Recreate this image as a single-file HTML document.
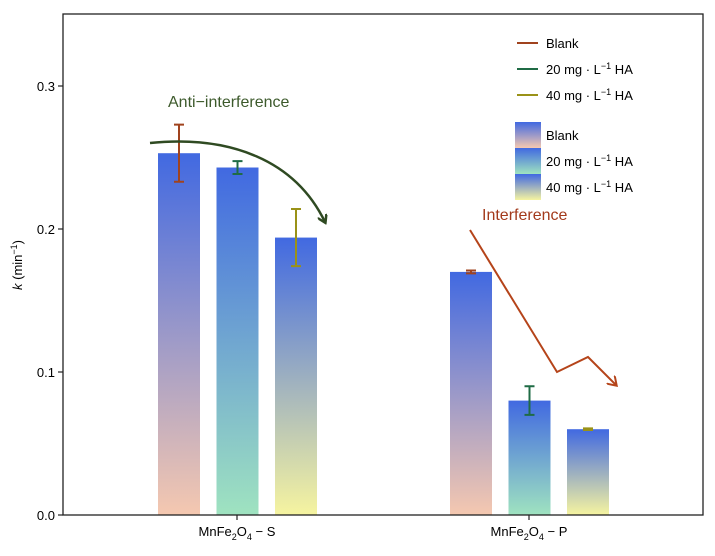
<!DOCTYPE html>
<html><head><meta charset="utf-8"><style>
html,body{margin:0;padding:0;background:#fff;font-family:"Liberation Sans",sans-serif;overflow:hidden}
svg{display:block}
svg text{font-family:"Liberation Sans",sans-serif}
</style></head><body>
<svg id="chart" width="715" height="556">
<defs>
<linearGradient id="g0" x1="0" y1="0" x2="0" y2="1"><stop offset="0" stop-color="#4169e1"/><stop offset="1" stop-color="#f5c8b0"/></linearGradient>
<linearGradient id="g1" x1="0" y1="0" x2="0" y2="1"><stop offset="0" stop-color="#4169e1"/><stop offset="1" stop-color="#9fe3c0"/></linearGradient>
<linearGradient id="g2" x1="0" y1="0" x2="0" y2="1"><stop offset="0" stop-color="#4169e1"/><stop offset="1" stop-color="#f6f4a0"/></linearGradient>
<marker id="ahG" markerWidth="10" markerHeight="10" refX="7" refY="5" orient="auto" markerUnits="userSpaceOnUse"><path d="M0,0 L8,5 L0,10" fill="none" stroke="#2f4a22" stroke-width="2.5"/></marker>
<marker id="ahR" markerWidth="12" markerHeight="12" refX="8" refY="6" orient="auto" markerUnits="userSpaceOnUse"><path d="M0,0 L9,6 L0,12" fill="none" stroke="#b5441a" stroke-width="2"/></marker>
</defs>
<g id="plot"></g>
<rect x="63" y="14" width="640" height="501" fill="none" stroke="#222" stroke-width="1.3"/>
<text x="168" y="107" font-size="16" fill="#3d5a2c">Anti−interference</text>
<path d="M150,143 C230,135 295,160 325,222" fill="none" stroke="#2f4a22" stroke-width="2.5" marker-end="url(#ahG)"/>
<text x="482" y="220" font-size="16" fill="#a33a1c">Interference</text>
<polyline points="470,230 557,372 588,357 616,385" fill="none" stroke="#b5441a" stroke-width="2" marker-end="url(#ahR)"/>
<text transform="translate(22,265) rotate(-90)" text-anchor="middle" font-size="13"><tspan font-style="italic">k</tspan> (min<tspan dy="-5" font-size="9">−1</tspan><tspan dy="5">)</tspan></text>
<g font-size="13">
<line x1="517" y1="43" x2="538" y2="43" stroke="#a0431e" stroke-width="2"/><text x="546" y="48">Blank</text>
<line x1="517" y1="69" x2="538" y2="69" stroke="#1f6b45" stroke-width="2"/><text x="546" y="74">20 mg · L<tspan dy="-5" font-size="9">−1</tspan><tspan dy="5"> HA</tspan></text>
<line x1="517" y1="95" x2="538" y2="95" stroke="#9a9218" stroke-width="2"/><text x="546" y="100">40 mg · L<tspan dy="-5" font-size="9">−1</tspan><tspan dy="5"> HA</tspan></text>
<rect x="515" y="122" width="26" height="26" fill="url(#g0)"/><text x="546" y="140">Blank</text>
<rect x="515" y="148" width="26" height="26" fill="url(#g1)"/><text x="546" y="166">20 mg · L<tspan dy="-5" font-size="9">−1</tspan><tspan dy="5"> HA</tspan></text>
<rect x="515" y="174" width="26" height="26" fill="url(#g2)"/><text x="546" y="192">40 mg · L<tspan dy="-5" font-size="9">−1</tspan><tspan dy="5"> HA</tspan></text>
</g>
</svg>
<script>
const categories=["MnFe2O4-S","MnFe2O4-P"];
const blankVals=[0.253,0.170];
const ha20Vals=[0.243,0.080];
const ha40Vals=[0.194,0.060];
const blankErr=[0.020,0.001];
const ha20Err=[0.0045,0.010];
const ha40Err=[0.020,0.0006];
const yTicks=[0.0,0.1,0.2,0.3];
const NS="http://www.w3.org/2000/svg";
const g=document.getElementById('plot');
const y=v=>515-v*1430;
const groupX=i=>237+i*292;
function el(t,a){const e=document.createElementNS(NS,t);for(const k in a)e.setAttribute(k,a[k]);g.appendChild(e);return e;}
yTicks.forEach(t=>{
 const l=el('line',{x1:58,x2:63,y1:y(t),y2:y(t),stroke:'#222','stroke-width':1.2});
 
 
 const tx=el('text',{x:55,y:y(t)+5,'text-anchor':'end','font-size':13});tx.textContent=t.toFixed(1);
 
 
});
const series=[[blankVals,blankErr,'url(#g0)','#a0431e'],[ha20Vals,ha20Err,'url(#g1)','#1f6b45'],[ha40Vals,ha40Err,'url(#g2)','#9a9218']];
categories.forEach((c,i)=>{
 const cx=groupX(i);
 const tk=el('line',{x1:cx,x2:cx,y1:515,y2:520,stroke:'#222','stroke-width':1.2});
 
 
 const tx=el('text',{x:cx,y:536,'text-anchor':'middle','font-size':13});
 tx.innerHTML='MnFe<tspan dy="4" font-size="9">2</tspan><tspan dy="-4">O</tspan><tspan dy="4" font-size="9">4</tspan><tspan dy="-4"> − '+c.slice(-1)+'</tspan>';
 
 
 series.forEach((s,j)=>{
  const bx=cx-79+j*58.5, w=42, v=s[0][i], e=s[1][i];
  const r=el('rect',{x:bx,y:y(v),width:w,height:515-y(v),fill:s[2]});
  
  
  const mx=bx+w/2;
  const eb=el('path',{d:`M${mx-5},${y(v+e)}H${mx+5}M${mx},${y(v+e)}V${y(v-e)}M${mx-5},${y(v-e)}H${mx+5}`,stroke:s[3],'stroke-width':2,fill:'none'});
  
  
 });
});
</script>
</body></html>
